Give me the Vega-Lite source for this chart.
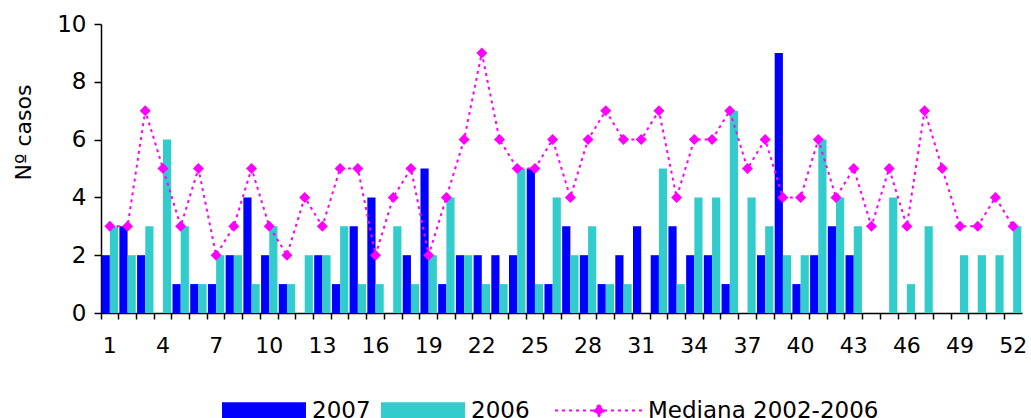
{
  "$schema": "https://vega.github.io/schema/vega-lite/v6.json",
  "width": 921,
  "height": 289,
  "autosize": {"type": "none"},
  "padding": {"left": 101, "top": 24, "right": 9, "bottom": 105},
  "config": {
    "view": {"stroke": null},
    "font": "DejaVu Sans",
    "axis": {"grid": false, "domainColor": "#000000", "tickColor": "#000000", "labelColor": "#000000", "titleColor": "#000000", "titleFontWeight": "normal", "domainWidth": 1.5, "tickWidth": 1.5},
    "legend": {"labelColor": "#000000", "padding": 0, "labelLimit": 0}
  },
  "data": {"values": [
    {"semana": 1, "2007": 2, "2006": 3, "mediana": 3},
    {"semana": 2, "2007": 3, "2006": 2, "mediana": 3},
    {"semana": 3, "2007": 2, "2006": 3, "mediana": 7},
    {"semana": 4, "2007": 0, "2006": 6, "mediana": 5},
    {"semana": 5, "2007": 1, "2006": 3, "mediana": 3},
    {"semana": 6, "2007": 1, "2006": 1, "mediana": 5},
    {"semana": 7, "2007": 1, "2006": 2, "mediana": 2},
    {"semana": 8, "2007": 2, "2006": 2, "mediana": 3},
    {"semana": 9, "2007": 4, "2006": 1, "mediana": 5},
    {"semana": 10, "2007": 2, "2006": 3, "mediana": 3},
    {"semana": 11, "2007": 1, "2006": 1, "mediana": 2},
    {"semana": 12, "2007": 0, "2006": 2, "mediana": 4},
    {"semana": 13, "2007": 2, "2006": 2, "mediana": 3},
    {"semana": 14, "2007": 1, "2006": 3, "mediana": 5},
    {"semana": 15, "2007": 3, "2006": 1, "mediana": 5},
    {"semana": 16, "2007": 4, "2006": 1, "mediana": 2},
    {"semana": 17, "2007": 0, "2006": 3, "mediana": 4},
    {"semana": 18, "2007": 2, "2006": 1, "mediana": 5},
    {"semana": 19, "2007": 5, "2006": 2, "mediana": 2},
    {"semana": 20, "2007": 1, "2006": 4, "mediana": 4},
    {"semana": 21, "2007": 2, "2006": 2, "mediana": 6},
    {"semana": 22, "2007": 2, "2006": 1, "mediana": 9},
    {"semana": 23, "2007": 2, "2006": 1, "mediana": 6},
    {"semana": 24, "2007": 2, "2006": 5, "mediana": 5},
    {"semana": 25, "2007": 5, "2006": 1, "mediana": 5},
    {"semana": 26, "2007": 1, "2006": 4, "mediana": 6},
    {"semana": 27, "2007": 3, "2006": 2, "mediana": 4},
    {"semana": 28, "2007": 2, "2006": 3, "mediana": 6},
    {"semana": 29, "2007": 1, "2006": 1, "mediana": 7},
    {"semana": 30, "2007": 2, "2006": 1, "mediana": 6},
    {"semana": 31, "2007": 3, "2006": 0, "mediana": 6},
    {"semana": 32, "2007": 2, "2006": 5, "mediana": 7},
    {"semana": 33, "2007": 3, "2006": 1, "mediana": 4},
    {"semana": 34, "2007": 2, "2006": 4, "mediana": 6},
    {"semana": 35, "2007": 2, "2006": 4, "mediana": 6},
    {"semana": 36, "2007": 1, "2006": 7, "mediana": 7},
    {"semana": 37, "2007": 0, "2006": 4, "mediana": 5},
    {"semana": 38, "2007": 2, "2006": 3, "mediana": 6},
    {"semana": 39, "2007": 9, "2006": 2, "mediana": 4},
    {"semana": 40, "2007": 1, "2006": 2, "mediana": 4},
    {"semana": 41, "2007": 2, "2006": 6, "mediana": 6},
    {"semana": 42, "2007": 3, "2006": 4, "mediana": 4},
    {"semana": 43, "2007": 2, "2006": 3, "mediana": 5},
    {"semana": 44, "2007": null, "2006": 0, "mediana": 3},
    {"semana": 45, "2007": null, "2006": 4, "mediana": 5},
    {"semana": 46, "2007": null, "2006": 1, "mediana": 3},
    {"semana": 47, "2007": null, "2006": 3, "mediana": 7},
    {"semana": 48, "2007": null, "2006": 0, "mediana": 5},
    {"semana": 49, "2007": null, "2006": 2, "mediana": 3},
    {"semana": 50, "2007": null, "2006": 2, "mediana": 3},
    {"semana": 51, "2007": null, "2006": 2, "mediana": 4},
    {"semana": 52, "2007": null, "2006": 3, "mediana": 3}
  ]},
  "layer": [
    {
      "transform": [{"fold": ["2007", "2006"], "as": ["serie", "casos"]}],
      "mark": {"type": "bar"},
      "encoding": {
        "x": {
          "field": "semana", "type": "ordinal",
          "scale": {"paddingInner": 0, "paddingOuter": 0},
          "axis": {"orient": "bottom", "values": [1, 4, 7, 10, 13, 16, 19, 22, 25, 28, 31, 34, 37, 40, 43, 46, 49, 52], "ticks": false, "domain": false, "labelAngle": 0, "labelFontSize": 22, "labelPadding": 22, "title": null}
        },
        "xOffset": {"field": "serie", "type": "nominal", "sort": ["2007", "2006"], "scale": {"paddingOuter": 0.08, "paddingInner": 0}},
        "y": {
          "field": "casos", "type": "quantitative",
          "scale": {"domain": [0, 10]},
          "axis": {"values": [0, 2, 4, 6, 8, 10], "labelFontSize": 23, "tickSize": 7, "labelPadding": 8, "title": "Nº casos", "titleFontSize": 22, "titleX": -78, "titleY": 108, "titleAlign": "center", "titleBaseline": "middle"}
        },
        "color": {
          "field": "serie", "type": "nominal",
          "scale": {"domain": ["2007", "2006"], "range": ["#0000FF", "#33CCCC"]},
          "legend": {"title": null, "orient": "none", "legendX": 118, "legendY": 375, "direction": "horizontal", "symbolType": "M-1,-1H8.88V1H-1Z", "symbolSize": 289, "symbolStrokeWidth": 0, "labelFontSize": 23, "labelOffset": 70, "columnPadding": 7}
        }
      }
    },
    {
      "mark": {"type": "line", "strokeDash": [3, 4], "strokeWidth": 2},
      "encoding": {
        "x": {"field": "semana", "type": "ordinal", "axis": {"orient": "bottom", "bandPosition": 0, "labels": false, "tickSize": 6, "title": null, "domain": true}},
        "y": {"field": "mediana", "type": "quantitative"},
        "stroke": {
          "datum": "Mediana 2002-2006",
          "scale": {"range": ["#FF00FF"]},
          "legend": {"title": null, "orient": "none", "legendX": 448, "legendY": 375, "symbolType": "M-1,0H15M7,-1L8,0L7,1L6,0Z", "symbolSize": 121, "symbolStrokeWidth": 2, "symbolDash": [3, 4], "symbolFillColor": "#FF00FF", "labelFontSize": 23, "labelOffset": 76, "labelLimit": 0}
        }
      }
    },
    {
      "mark": {"type": "point", "shape": "diamond", "filled": true, "size": 121, "color": "#FF00FF", "opacity": 1},
      "encoding": {
        "x": {"field": "semana", "type": "ordinal", "axis": null},
        "y": {"field": "mediana", "type": "quantitative"}
      }
    }
  ],
  "resolve": {"axis": {"x": "independent"}}
}
